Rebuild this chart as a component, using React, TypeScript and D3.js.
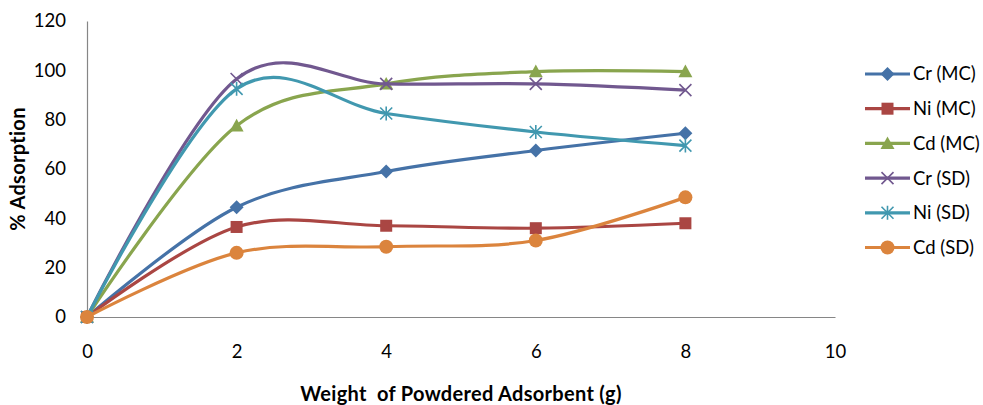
import { useEffect, useRef } from "react";
import * as d3 from "d3";

const W = 983;
const H = 405;
const MARGIN = { top: 21, right: 148, bottom: 88, left: 87 };

const xValues = [0, 2, 4, 6, 8];
const seriesNames = ["Cr (MC)", "Ni (MC)", "Cd (MC)", "Cr (SD)", "Ni (SD)", "Cd (SD)"];
const crMC = [0, 44.5, 59, 67.5, 74.5];
const niMC = [0, 36.5, 37, 36, 38];
const cdMC = [0, 77.5, 94.5, 99.5, 99.5];
const crSD = [0, 96.5, 94.5, 94.5, 92];
const niSD = [0, 92.5, 82.5, 75, 69.5];
const cdSD = [0, 26, 28.5, 31, 48.5];
const colors = ["#4572A7", "#AA4643", "#89A54E", "#71588F", "#4198AF", "#DB843D"];
const markers = ["diamond", "square", "triangle", "x", "asterisk", "circle"];
const xTicks = [0, 2, 4, 6, 8, 10];
const yTicks = [0, 20, 40, 60, 80, 100, 120];

const FONT = "Lato, 'Open Sans', sans-serif";

const seriesValues = [crMC, niMC, cdMC, crSD, niSD, cdSD];

const Marker = ({ type, x, y, color }: { type: string; x: number; y: number; color: string }) => {
  if (type === "diamond") {
    const s = 7;
    return <path d={`M${x},${y - s}L${x + s},${y}L${x},${y + s}L${x - s},${y}Z`} fill={color} />;
  }
  if (type === "square") {
    const s = 6;
    return <rect x={x - s} y={y - s} width={2 * s} height={2 * s} fill={color} />;
  }
  if (type === "triangle") {
    const s = 7;
    return <path d={`M${x},${y - s}L${x + s},${y + s * 0.8}L${x - s},${y + s * 0.8}Z`} fill={color} />;
  }
  if (type === "x") {
    const s = 6;
    return (
      <path d={`M${x - s},${y - s}L${x + s},${y + s}M${x + s},${y - s}L${x - s},${y + s}`} stroke={color} strokeWidth={1.6} />
    );
  }
  if (type === "asterisk") {
    const s = 6;
    return (
      <path
        d={`M${x - s},${y - s}L${x + s},${y + s}M${x + s},${y - s}L${x - s},${y + s}M${x},${y - s - 1}L${x},${y + s + 1}`}
        stroke={color}
        strokeWidth={1.6}
      />
    );
  }
  return <circle cx={x} cy={y} r={7} fill={color} />;
};

const App = () => {
  const axesRef = useRef<SVGGElement>(null);
  const boundsWidth = W - MARGIN.left - MARGIN.right;
  const boundsHeight = H - MARGIN.top - MARGIN.bottom;

  const xScale = d3.scaleLinear().domain([0, 10]).range([0, boundsWidth]);
  const yScale = d3.scaleLinear().domain([0, 120]).range([boundsHeight, 0]);

  useEffect(() => {
    const g = d3.select(axesRef.current);
    g.selectAll("*").remove();

    const xAxis = g
      .append("g")
      .attr("transform", `translate(0,${boundsHeight})`)
      .call(d3.axisBottom(xScale).tickValues(xTicks).tickSize(0).tickPadding(28));
    const yAxis = g.append("g").call(d3.axisLeft(yScale).tickValues(yTicks).tickSize(0).tickPadding(21));

    [xAxis, yAxis].forEach((a) => {
      a.select(".domain").attr("stroke", "#868686").attr("stroke-width", 1.2);
      a.selectAll("text").attr("font-family", FONT).attr("font-size", 18.5).attr("fill", "#000");
    });
  }, []);

  const line = d3
    .line<number>()
    .x((_, i) => xScale(xValues[i]))
    .y((d) => yScale(d))
    .curve(d3.curveCardinal.tension(0));

  return (
    <div style={{ position: "absolute", left: 0, top: 0 }}>
      <svg width={W} height={H} style={{ display: "block", background: "#fff" }}>
        <g transform={`translate(${MARGIN.left},${MARGIN.top})`}>
          <g ref={axesRef} />
          {seriesValues.map((vals, si) => (
            <g key={seriesNames[si]}>
              <path d={line(vals) || ""} fill="none" stroke={colors[si]} strokeWidth={3.2} />
              {vals.map((v, i) => (
                <Marker key={i} type={markers[si]} x={xScale(xValues[i])} y={yScale(v)} color={colors[si]} />
              ))}
            </g>
          ))}
        </g>
        <text
          x={MARGIN.left + boundsWidth / 2}
          y={401}
          textAnchor="middle"
          fontFamily={FONT}
          fontWeight="bold"
          fontSize={20}
          letterSpacing={0.3}
          style={{ whiteSpace: "pre" }}
        >
          {"Weight  of Powdered Adsorbent (g)"}
        </text>
        <text
          transform={`translate(25,${MARGIN.top + boundsHeight / 2}) rotate(-90)`}
          textAnchor="middle"
          fontFamily={FONT}
          fontWeight="bold"
          fontSize={20}
          letterSpacing={0.3}
        >
          % Adsorption
        </text>
        <g transform="translate(865,0)">
          {seriesNames.map((name, i) => {
            const y = 74 + i * 34.7;
            return (
              <g key={name}>
                <line x1={0} x2={45} y1={y} y2={y} stroke={colors[i]} strokeWidth={3.2} />
                <Marker type={markers[i]} x={22.5} y={y} color={colors[i]} />
                <text x={48} y={y} dy="0.35em" fontFamily={FONT} fontSize={18.5}>
                  {name}
                </text>
              </g>
            );
          })}
        </g>
      </svg>
    </div>
  );
};

export default App;
